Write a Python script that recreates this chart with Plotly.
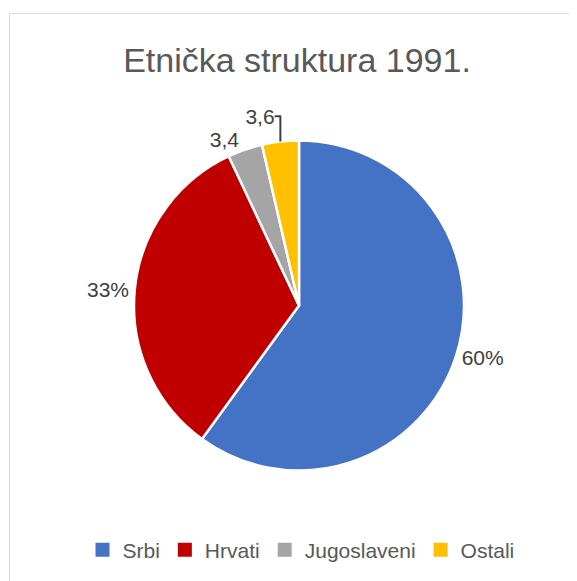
import plotly.graph_objects as go

categories = ["Srbi", "Hrvati", "Jugoslaveni", "Ostali"]
values = [60.0, 33.0, 3.4, 3.6]
label_texts = ["60%", "33%", "3,4", "3,6"]
colors = ["#4472C4", "#C00000", "#A5A5A5", "#FFC000"]

# page body has an 8px margin, so the figure is offset by 8px
OFF = 8
W, H = 577 - OFF, 581 - OFF
cx, cy, r = 299 - OFF, 305.5 - OFF, 165

FONT = "Liberation Sans, Arial, sans-serif"

fig = go.Figure()
fig.add_trace(go.Pie(
    labels=categories,
    values=values,
    text=label_texts,
    textinfo="text",
    textposition="outside",
    sort=False,
    direction="clockwise",
    rotation=0,
    marker=dict(colors=colors, line=dict(color="white", width=2.5)),
    textfont=dict(family=FONT, size=21, color="#404040"),
    domain=dict(x=[(cx - r) / W, (cx + r) / W], y=[1 - (cy + r) / H, 1 - (cy - r) / H]),
    hoverinfo="label+value",
    automargin=False,
    showlegend=False,
))

# legend entries with larger square swatches
for name, col in zip(categories, colors):
    fig.add_trace(go.Scatter(
        x=[None], y=[None], mode="markers", name=name,
        marker=dict(symbol="square", size=14, color=col),
        hoverinfo="skip",
    ))

fig.update_layout(
    width=W, height=H,
    margin=dict(l=0, r=0, t=0, b=0),
    paper_bgcolor="white",
    plot_bgcolor="rgba(0,0,0,0)",
    xaxis=dict(visible=False),
    yaxis=dict(visible=False),
    title=dict(text="Etnička struktura 1991.", x=(297 - OFF) / W, xanchor="center",
               y=1 - (60 - OFF) / H, yanchor="middle",
               font=dict(family=FONT, size=34, color="#595959")),
    legend=dict(orientation="h", x=(301 - OFF) / W, xanchor="center", y=1 - (550 - OFF) / H, yanchor="middle",
                font=dict(family=FONT, size=21, color="#595959"),
                itemwidth=30, traceorder="normal"),
    showlegend=True,
    shapes=[dict(type="rect", xref="paper", yref="paper", x0=(9.5 - OFF) / W, x1=1.05, y0=-0.05,
                 y1=1 - (13.5 - OFF) / H,
                 line=dict(color="#D9D9D9", width=1), fillcolor="rgba(0,0,0,0)", layer="below")],
)

fig.write_html("out.html")
